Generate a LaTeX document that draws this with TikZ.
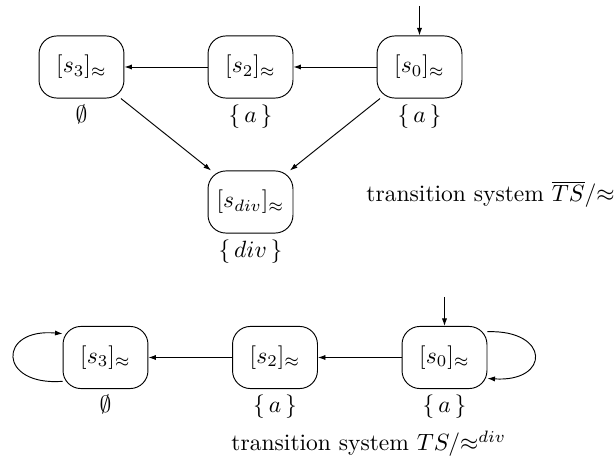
\documentclass[tikz,border=0pt]{standalone}
\usetikzlibrary{arrows.meta}

\begin{document}
\begin{tikzpicture}[x=0.425pt, y=0.425pt, >={Latex[length=3.2pt,width=2.2pt]},
  label distance=-1pt,
  cls/.style={draw, rounded corners=7.6pt, minimum width=36.1pt, minimum height=26.4pt}]
  \useasboundingbox (0,0) rectangle (614,465);

  % quotient of TS-bar
  \node[cls, label=below:{$\emptyset$}] (S3) at (81.5,398) {$[s_3]_{\approx}$};
  \node[cls, label=below:{$\{\,a\,\}$}] (S2) at (250.5,398) {$[s_2]_{\approx}$};
  \node[cls, label=below:{$\{\,a\,\}$}] (S0) at (419.5,398) {$[s_0]_{\approx}$};
  \node[cls, label=below:{$\{\,div\,\}$}] (Sdiv) at (250.5,263) {$[s_{div}]_{\approx}$};
  \coordinate (I0) at (419.5,459);

  \draw[->] (I0) -- (S0);
  \draw[->] (S0) -- (S2);
  \draw[->] (S2) -- (S3);
  \draw[->] (S3) -- (Sdiv);
  \draw[->] (S0) -- (Sdiv);
  \node[anchor=base west, inner sep=0pt] (cap1) at (366,263) {transition system $\overline{TS}/{\approx}$};

  % quotient under div-stutter
  \node[cls, label=below:{$\emptyset$}] (T3) at (105.5,107.5) {$[s_3]_{\approx}$};
  \node[cls, label=below:{$\{\,a\,\}$}] (T2) at (275,107.5) {$[s_2]_{\approx}$};
  \node[cls, label=below:{$\{\,a\,\}$}] (T0) at (444.5,107.5) {$[s_0]_{\approx}$};
  \coordinate (J0) at (444.5,168);

  \draw[->] (J0) -- (T0);
  \draw[->] (T0) -- (T2);
  \draw[->] (T2) -- (T3);
  \draw[->] (T3.209) .. controls +(-65,-5) and +(-65,6) .. (T3.151);
  \draw[->] (T0.31) .. controls +(63,2) and +(63,-4) .. (T0.334);
  \node[anchor=base west, inner sep=0pt] (cap2) at (231,14) {transition system $TS/{\approx^{div}}$};
\end{tikzpicture}
\end{document}
